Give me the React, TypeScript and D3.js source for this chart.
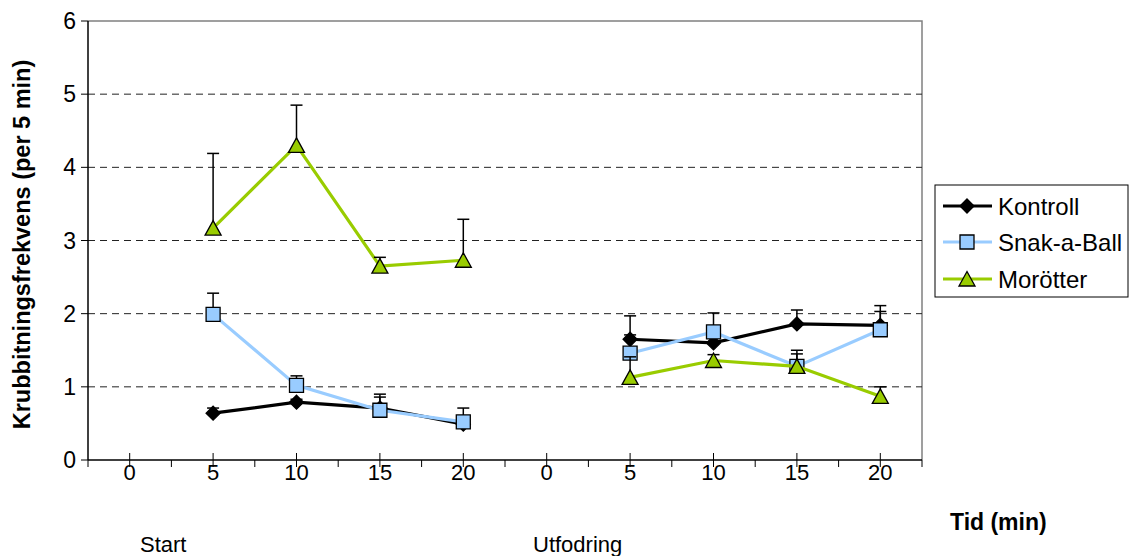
import React from 'react';
import * as d3 from 'd3';

// ---- data ----
const categories = ['0', '5', '10', '15', '20', '0', '5', '10', '15', '20'];
const groupLabels = ['Start', 'Utfodring'];
const yTicks = [0, 1, 2, 3, 4, 5, 6];

const kontroll = [null, 0.64, 0.79, 0.71, 0.49, null, 1.65, 1.6, 1.86, 1.84];
const kontrollErr = [null, 0.07, 0.04, 0.19, 0.06, null, 0.32, 0.12, 0.19, 0.27];

const snak = [null, 1.99, 1.02, 0.68, 0.52, null, 1.46, 1.75, 1.28, 1.78];
const snakErr = [null, 0.29, 0.13, 0.18, 0.19, null, 0.25, 0.26, 0.22, 0.25];

const morotter = [null, 3.17, 4.3, 2.65, 2.73, null, 1.13, 1.36, 1.28, 0.87];
const morotterErr = [null, 1.02, 0.55, 0.12, 0.56, null, 0.28, 0.08, 0.17, 0.13];

const seriesNames = ['Kontroll', 'Snak-a-Ball', 'Morötter'];

type Series = {
  name: string;
  values: (number | null)[];
  errs: (number | null)[];
  line: string;
  fill: string;
  marker: 'diamond' | 'square' | 'triangle';
};

const series: Series[] = [
  { name: seriesNames[0], values: kontroll, errs: kontrollErr, line: '#000000', fill: '#000000', marker: 'diamond' },
  { name: seriesNames[1], values: snak, errs: snakErr, line: '#99CCFF', fill: '#99CCFF', marker: 'square' },
  { name: seriesNames[2], values: morotter, errs: morotterErr, line: '#99CC00', fill: '#99CC00', marker: 'triangle' },
];

const W = 1130;
const H = 556;
const plot = { left: 88, right: 922, top: 21, bottom: 460 };
const FONT = 'Arial, "Liberation Sans", sans-serif';

function markerPath(kind: string): string {
  if (kind === 'diamond') return 'M0,-7L7,0L0,7L-7,0Z';
  if (kind === 'square') return 'M-7,-7H7V7H-7Z';
  return 'M0,-7.5L8,7L-8,7Z';
}

export default function App() {
  const x = d3
    .scaleBand<number>()
    .domain(categories.map((_, i) => i))
    .range([plot.left, plot.right])
    .padding(0);
  const cx = (i: number) => (x(i) as number) + x.bandwidth() / 2;
  const y = d3.scaleLinear().domain([0, 6]).range([plot.bottom, plot.top]);

  const lineGen = d3
    .line<{ i: number; v: number | null }>()
    .defined((d) => d.v !== null)
    .x((d) => cx(d.i))
    .y((d) => y(d.v as number));

  const boundaries = d3.range(categories.length + 1).map((k) => plot.left + k * x.bandwidth());

  return (
    <svg
      width={W}
      height={H}
      style={{ position: 'absolute', left: 0, top: 0, background: '#fff' }}
      fontFamily={FONT}
    >
      {/* plot border (top/right) */}
      <path
        d={`M${plot.left},${plot.top}H${plot.right}V${plot.bottom}`}
        fill="none"
        stroke="#808080"
        strokeWidth={1.5}
      />
      {/* gridlines */}
      {yTicks
        .filter((t) => t > 0 && t < 6)
        .map((t) => (
          <line
            key={'g' + t}
            x1={plot.left}
            x2={plot.right}
            y1={y(t)}
            y2={y(t)}
            stroke="#222"
            strokeWidth={1}
            strokeDasharray="7,5"
          />
        ))}
      {/* y axis */}
      <line x1={plot.left} x2={plot.left} y1={plot.top} y2={plot.bottom} stroke="#000" strokeWidth={1.5} />
      {yTicks.map((t) => (
        <g key={'yt' + t}>
          <line x1={plot.left - 7} x2={plot.left} y1={y(t)} y2={y(t)} stroke="#000" strokeWidth={1} />
          <text x={plot.left - 12} y={y(t)} textAnchor="end" dominantBaseline="central" fontSize={23}>
            {t}
          </text>
        </g>
      ))}
      {/* x axis */}
      <line x1={plot.left} x2={plot.right} y1={plot.bottom} y2={plot.bottom} stroke="#000" strokeWidth={1.5} />
      {boundaries.map((bx, k) => (
        <line key={'mb' + k} x1={bx} x2={bx} y1={plot.bottom} y2={plot.bottom + 7} stroke="#000" strokeWidth={1} />
      ))}
      {categories.map((c, i) => (
        <g key={'xt' + i}>
          <line x1={cx(i)} x2={cx(i)} y1={plot.bottom - 7} y2={plot.bottom + 7} stroke="#000" strokeWidth={1} />
          <text x={cx(i)} y={plot.bottom + 20} textAnchor="middle" fontSize={22}>
            {c}
          </text>
        </g>
      ))}
      <text x={140} y={552} fontSize={22}>
        {groupLabels[0]}
      </text>
      <text x={533} y={552} fontSize={22}>
        {groupLabels[1]}
      </text>
      <text x={950} y={530} fontSize={23} fontWeight="bold">
        Tid (min)
      </text>
      <text
        transform={`translate(30,${(plot.top + plot.bottom) / 2 + 4}) rotate(-90)`}
        textAnchor="middle"
        fontSize={23.5}
        fontWeight="bold"
      >
        Krubbitningsfrekvens (per 5 min)
      </text>

      {/* series */}
      {series.map((s) => {
        const pts = s.values.map((v, i) => ({ i, v }));
        return (
          <g key={s.name}>
            <path d={lineGen(pts) || ''} fill="none" stroke={s.line} strokeWidth={3.2} />
            {pts
              .filter((p) => p.v !== null)
              .map((p) => {
                const e = s.errs[p.i] as number;
                const top = y((p.v as number) + e);
                return (
                  <g key={'e' + p.i} stroke="#000" strokeWidth={1.5}>
                    <line x1={cx(p.i)} x2={cx(p.i)} y1={y(p.v as number)} y2={top} />
                    <line x1={cx(p.i) - 6} x2={cx(p.i) + 6} y1={top} y2={top} />
                  </g>
                );
              })}
            {pts
              .filter((p) => p.v !== null)
              .map((p) => (
                <path
                  key={'m' + p.i}
                  d={markerPath(s.marker)}
                  transform={`translate(${cx(p.i)},${y(p.v as number)})`}
                  fill={s.fill}
                  stroke="#000"
                  strokeWidth={1.3}
                />
              ))}
          </g>
        );
      })}

      {/* legend */}
      <rect x={935} y={185} width={193} height={112} fill="#fff" stroke="#000" strokeWidth={1} />
      {series.map((s, k) => {
        const ly = [206, 242, 279][k];
        return (
          <g key={'lg' + s.name}>
            <line x1={943} x2={992} y1={ly} y2={ly} stroke={s.line} strokeWidth={3} />
            <path d={markerPath(s.marker)} transform={`translate(967,${ly})`} fill={s.fill} stroke="#000" strokeWidth={1.3} />
            <text x={998} y={ly} dominantBaseline="central" fontSize={24}>
              {s.name}
            </text>
          </g>
        );
      })}
    </svg>
  );
}
